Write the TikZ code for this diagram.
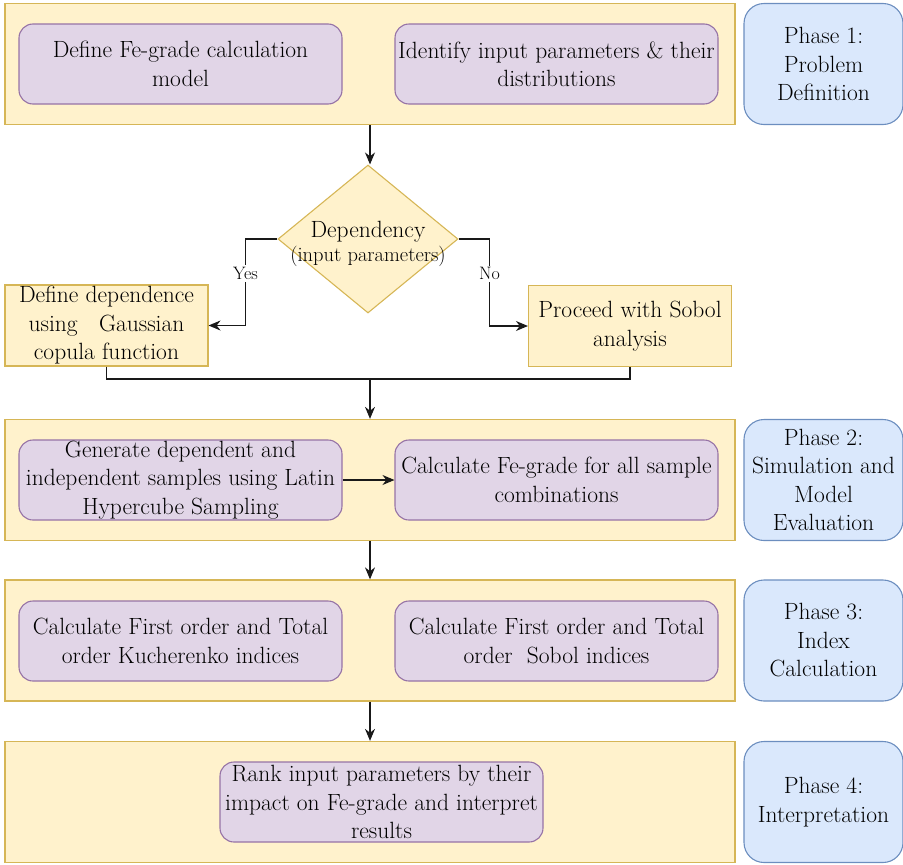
\documentclass[tikz,border=0pt]{standalone}
\usepackage{tikz}
\usetikzlibrary{shapes.geometric,arrows.meta}

\definecolor{phasefill}{HTML}{FFF2CC}
\definecolor{phasedraw}{HTML}{D6B656}
\definecolor{taskfill}{HTML}{E1D5E7}
\definecolor{taskdraw}{HTML}{9673A6}
\definecolor{labelfill}{HTML}{DAE8FC}
\definecolor{labeldraw}{HTML}{6C8EBF}

\tikzset{
  txt/.style={font=\fontsize{23.5}{28.5}\selectfont, align=center, inner sep=0pt},
  phasebox/.style={draw=phasedraw, fill=phasefill, line width=1.3pt,
    minimum width=730pt, minimum height=121pt},
  taskbox/.style={txt, draw=taskdraw, fill=taskfill, line width=1.1pt,
    rounded corners=14pt, minimum width=323pt, minimum height=80pt},
  phaselabel/.style={txt, draw=labeldraw, fill=labelfill, line width=1.1pt,
    rounded corners=20pt, minimum width=159pt, minimum height=121pt},
  branchbox/.style={txt, draw=phasedraw, fill=phasefill, line width=1.1pt,
    minimum width=203pt, minimum height=81pt},
  decision/.style={diamond, draw=phasedraw, fill=phasefill, line width=1.1pt,
    minimum width=180pt, minimum height=148pt, inner sep=0pt},
  flow/.style={-{Stealth[length=12pt,width=10pt]}, line width=1.1pt, black!90},
  link/.style={line width=1.1pt, black!90},
  answer/.style={fill=white, text=black, inner sep=2pt, font=\fontsize{18}{20}\selectfont}
}

\begin{document}
\begin{tikzpicture}[x=1pt, y=-1pt]
\useasboundingbox (0,0) rectangle (903,865);

% Phase 1
\node[phasebox] (p1) at (370,64) {};
\node[taskbox] (t1a) at (180.5,64) {Define Fe-grade calculation\\ model};
\node[taskbox] (t1b) at (556.5,64) {Identify input parameters \& their\\ distributions};
\node[phaselabel] (ph1) at (823.5,64) {Phase 1:\\ Problem\\ Definition};

% decision
\node[decision] (dep) at (368,239) {};
\node[txt] (deptxt) at (368,244) {Dependency\\[-4pt]{\fontsize{20.5}{24}\selectfont(input parameters)}};
\node[branchbox] (dd) at (106.5,325.5) {Define dependence\\ using \ \ Gaussian\\ copula function};
\node[branchbox] (sob) at (630,326) {Proceed with Sobol\\ analysis};
\coordinate (join) at (370,379);

% Phase 2
\node[phasebox] (p2) at (370,480) {};
\node[taskbox] (t2a) at (180.5,480) {Generate dependent and\\ independent samples using Latin\\ Hypercube Sampling};
\node[taskbox] (t2b) at (556.5,480) {Calculate Fe-grade for all sample\\ combinations};
\node[phaselabel] (ph2) at (823.5,480) {Phase 2:\\ Simulation and\\ Model\\ Evaluation};

% Phase 3
\node[phasebox] (p3) at (370,640.5) {};
\node[taskbox] (t3a) at (180.5,641) {Calculate First order and Total\\ order Kucherenko indices};
\node[taskbox] (t3b) at (556.5,641) {Calculate First order and Total\\ order \ Sobol indices};
\node[phaselabel] (ph3) at (823.5,640.5) {Phase 3:\\ Index\\ Calculation};

% Phase 4
\node[phasebox] (p4) at (370,802) {};
\node[taskbox] (t4) at (381.5,802) {Rank input parameters by their\\ impact on Fe-grade and interpret\\ results};
\node[phaselabel] (ph4) at (823.5,802) {Phase 4:\\ Interpretation};

% connectors
\draw[flow] (p1.south) -- (p1.south |- dep.north);
\draw[flow] (dep.west) -- ++(-32,0) |- (dd.east) node[answer, pos=0.2] (yes) {Yes};
\draw[flow] (dep.east) -- ++(31,0) |- (sob.west) node[answer, pos=0.2] (no) {No};
\draw[link] (dd.south) |- (join) -| (sob.south);
\draw[flow] (join) -- (p2.north);
\draw[flow] (t2a.east) -- (t2b.west);
\draw[flow] (p2.south) -- (p3.north);
\draw[flow] (p3.south) -- (p4.north);
\end{tikzpicture}
\end{document}
